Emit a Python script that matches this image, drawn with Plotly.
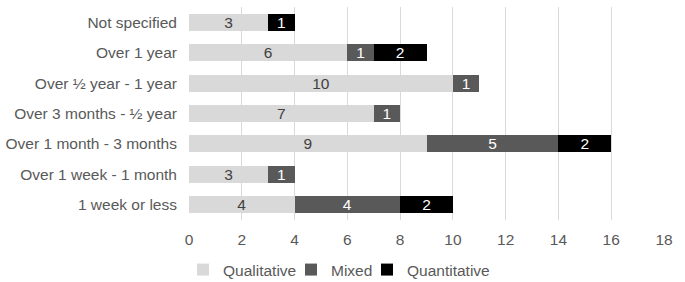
import plotly.graph_objects as go

categories = ["Not specified", "Over 1 year", "Over ½ year - 1 year", "Over 3 months - ½ year",
              "Over 1 month - 3 months", "Over 1 week - 1 month", "1 week or less"]
qualitative = [3, 6, 10, 7, 9, 3, 4]
mixed = [None, 1, 1, 1, 5, 1, 4]
quantitative = [1, 2, None, None, 2, None, 2]

series = [
    ("Qualitative", qualitative, "#d9d9d9", "#404040", "legend"),
    ("Mixed", mixed, "#595959", "#ffffff", "legend2"),
    ("Quantitative", quantitative, "#000000", "#ffffff", "legend3"),
]

FONT = "Liberation Sans, Arial, sans-serif"
L, R, T, B, W, H = 189, 21, 7, 62, 685, 282
PW = W - L - R
PH = H - T - B

fig = go.Figure()
for name, vals, color, tcolor, lg in series:
    fig.add_trace(go.Bar(
        y=categories, x=vals, name=name, orientation="h", legend=lg,
        marker=dict(color=color, line=dict(width=0)),
        text=[str(v) if v is not None else "" for v in vals],
        textposition="inside", insidetextanchor="middle", textangle=0,
        constraintext="none",
        textfont=dict(color=tcolor, size=15.5, family=FONT),
    ))

def px2x(p):
    return (p - L) / PW

leg_common = dict(orientation="h", xanchor="left", y=-(270 - (T + PH)) / PH, yanchor="middle",
                  font=dict(size=15.5, color="#595959"), itemwidth=30, bgcolor="rgba(0,0,0,0)")
fig.update_layout(
    barmode="stack", bargap=0.44,
    width=W, height=H,
    margin=dict(l=L, r=R, t=T, b=B, autoexpand=False),
    paper_bgcolor="white", plot_bgcolor="white",
    font=dict(family=FONT, size=15.5, color="#595959"),
    showlegend=True,
    uniformtext=dict(minsize=15, mode="show"),
    legend=dict(x=px2x(183), **leg_common),
    legend2=dict(x=px2x(291), **leg_common),
    legend3=dict(x=px2x(367), **leg_common),
    xaxis=dict(range=[0, 18], dtick=2, showgrid=True, gridcolor="#d9d9d9", gridwidth=1,
               zeroline=False, showline=False, ticks="", automargin=False,
               ticklabelstandoff=8,
               tickfont=dict(size=15.5, color="#595959")),
    yaxis=dict(autorange="reversed", showgrid=False, showline=False, ticks="",
               automargin=False, ticklabelstandoff=11,
               tickfont=dict(size=15.5, color="#595959")),
)
fig.write_html("out.html", config=dict(displayModeBar=False),
               post_script="document.body.style.margin='0';document.body.style.padding='0';")
